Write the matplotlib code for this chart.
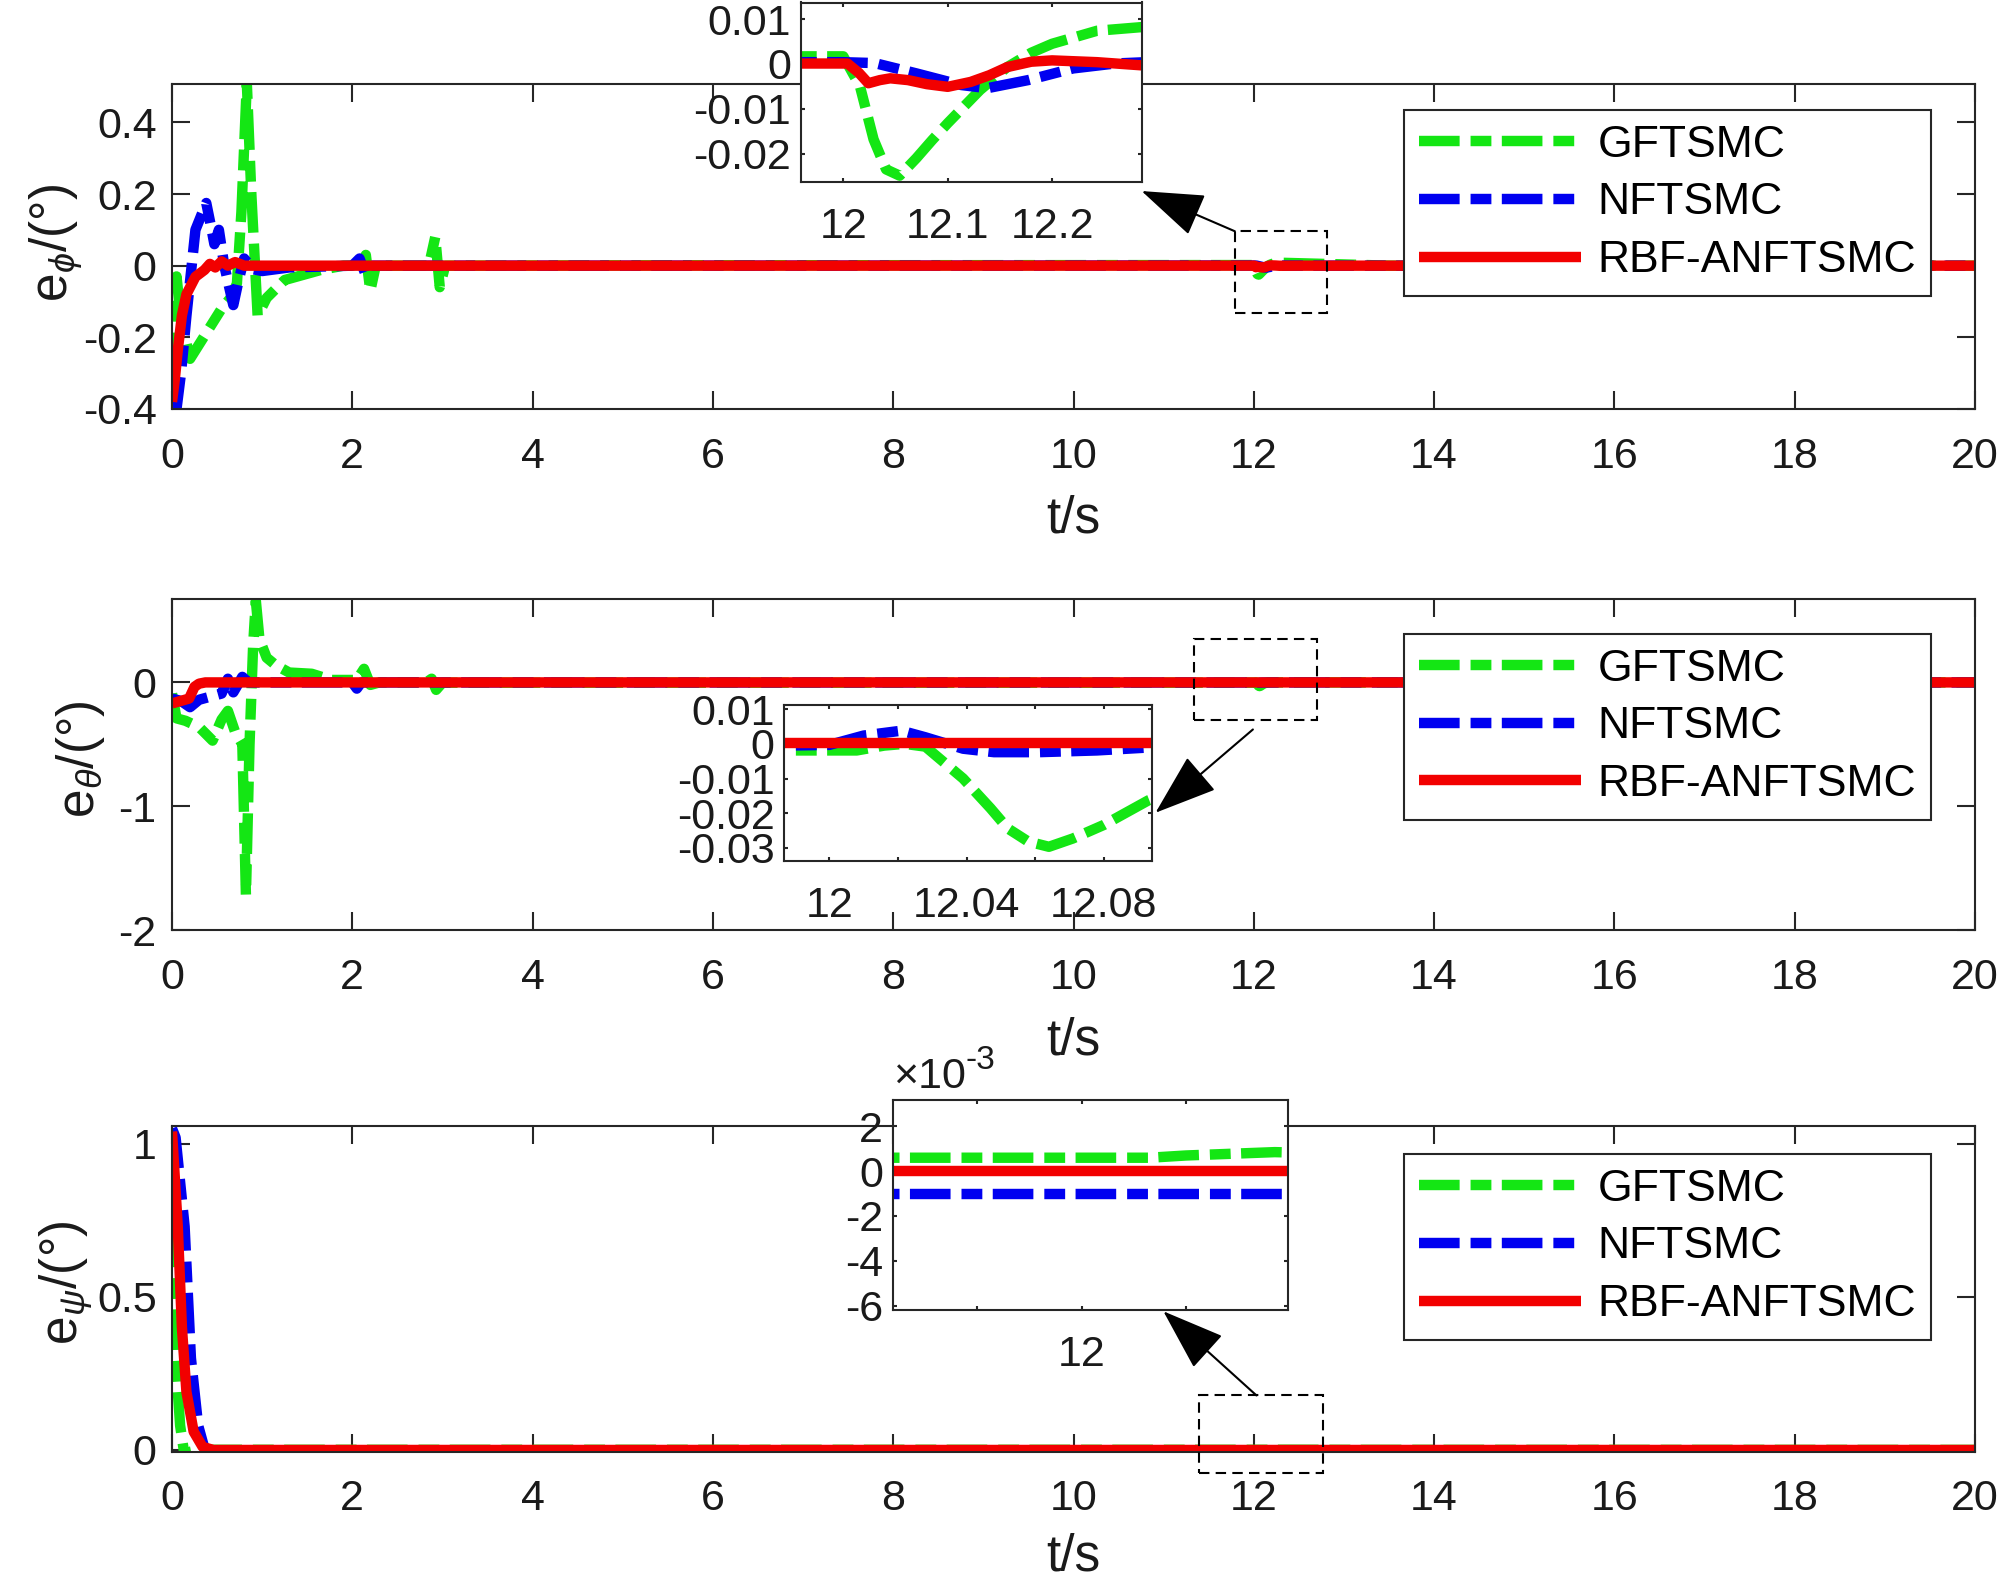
import numpy as np
import matplotlib
matplotlib.use('Agg')
import matplotlib.pyplot as plt
from matplotlib.patches import Rectangle, ConnectionPatch
from matplotlib.ticker import FuncFormatter

plt.rcParams['font.family'] = ['Liberation Sans', 'DejaVu Sans']
plt.rcParams['mathtext.fontset'] = 'custom'
plt.rcParams['mathtext.rm'] = 'Liberation Sans'
plt.rcParams['mathtext.it'] = 'Liberation Sans:italic'
plt.rcParams['axes.unicode_minus'] = False

# ---------------- data ----------------
series_names = ['GFTSMC', 'NFTSMC', 'RBF-ANFTSMC']
x_ticks = [0, 2, 4, 6, 8, 10, 12, 14, 16, 18, 20]

# roll error e_phi
phi_g_t = [0.0, 0.02, 0.05, 0.1, 0.2, 0.35, 0.55, 0.65, 0.72, 0.77, 0.83, 0.88, 0.95, 1.05, 1.25, 1.65, 1.9,
           2.1, 2.15, 2.2, 2.26, 2.85, 2.92, 2.97, 3.03, 5.0, 11.96, 12.0, 12.016, 12.029, 12.041, 12.054,
           12.07, 12.085, 12.1, 12.131, 12.157, 12.18, 12.2, 12.243, 12.285, 12.4, 13.5, 20.0]
phi_g_v = [-0.30, -0.15, -0.03, -0.15, -0.26, -0.20, -0.12, -0.09, -0.05, 0.15, 0.51, 0.20, -0.14, -0.09,
           -0.04, -0.012, 0.0, 0.0, 0.03, -0.07, 0.0, 0.0, 0.08, -0.06, 0.0, 0.001, 0.0017, 0.0017, -0.005,
           -0.0168, -0.0235, -0.0249, -0.021, -0.017, -0.0132, -0.0058, -0.0007, 0.0025, 0.0045, 0.0074,
           0.0082, 0.0075, 0.0, 0.0]
phi_b_t = [0.0, 0.05, 0.1, 0.16, 0.26, 0.38, 0.44, 0.47, 0.52, 0.58, 0.68, 0.74, 0.8, 0.9, 1.0, 1.3, 2.0,
           2.08, 2.14, 2.2, 11.96, 12.0, 12.03, 12.07, 12.113, 12.138, 12.177, 12.22, 12.26, 12.29, 13.0, 20.0]
phi_b_v = [-0.38, -0.40, -0.30, -0.14, 0.10, 0.175, 0.10, 0.06, 0.10, 0.0, -0.11, -0.04, 0.02, -0.01,
           -0.015, -0.005, 0.0, 0.02, -0.02, 0.0, 0.0004, 0.0004, 0.0002, -0.0021, -0.0047, -0.0054,
           -0.0036, -0.001, 0.0001, 0.0004, 0.0, 0.0]
phi_r_t = [0.0, 0.03, 0.064, 0.11, 0.16, 0.26, 0.36, 0.42, 0.48, 0.55, 0.62, 0.7, 0.8, 11.96, 12.004,
           12.015, 12.024, 12.035, 12.045, 12.062, 12.08, 12.1, 12.122, 12.14, 12.157, 12.18, 12.2, 12.243,
           12.285, 12.5, 20.0]
phi_r_v = [-0.38, -0.32, -0.236, -0.139, -0.08, -0.031, -0.012, 0.005, -0.005, 0.012, 0.0, 0.01, 0.0,
           0.0001, 0.0001, -0.002, -0.0043, -0.0036, -0.0032, -0.0036, -0.0045, -0.0051, -0.004, -0.0025,
           -0.0007, 0.0005, 0.0008, 0.0004, -0.0003, 0.0, 0.0]

# pitch error e_theta
th_g_t = [0.0, 0.05, 0.15, 0.3, 0.45, 0.55, 0.62, 0.7, 0.78, 0.82, 0.86, 0.9, 0.93, 0.97, 1.05, 1.15, 1.3,
          1.55, 1.77, 2.05, 2.13, 2.2, 2.3, 2.82, 2.88, 2.93, 3.0, 11.987, 12.008, 12.016, 12.022, 12.028,
          12.039, 12.047, 12.052, 12.058, 12.064, 12.071, 12.08, 12.093, 12.12, 12.16, 13.0, 20.0]
th_g_v = [-0.09, -0.29, -0.31, -0.36, -0.47, -0.30, -0.23, -0.40, -0.50, -1.72, -0.50, 0.30, 0.66, 0.35,
          0.20, 0.14, 0.08, 0.07, 0.02, 0.02, 0.11, -0.02, 0.0, 0.0, 0.03, -0.06, -0.002, -0.0019, -0.0019,
          -0.0005, 0.0, -0.0008, -0.010, -0.0186, -0.0244, -0.0282, -0.0297, -0.0273, -0.0234, -0.0163,
          -0.006, 0.0, 0.0, 0.0]
th_b_t = [0.0, 0.1, 0.2, 0.3, 0.45, 0.55, 0.62, 0.68, 0.78, 0.85, 2.0, 2.05, 2.1, 11.987, 12.0, 12.01,
          12.021, 12.028, 12.039, 12.048, 12.061, 12.078, 12.094, 12.3, 20.0]
th_b_v = [-0.13, -0.15, -0.20, -0.14, -0.11, -0.09, 0.03, -0.08, 0.045, 0.0, 0.0, -0.05, 0.0, -0.0005,
          -0.0003, 0.0024, 0.0038, 0.0019, -0.0014, -0.0024, -0.0024, -0.0019, -0.001, 0.0, 0.0]
th_r_t = [0.0, 0.19, 0.25, 0.3, 0.37, 20.0]
th_r_v = [-0.17, -0.13, -0.035, -0.01, 0.0002, 0.0002]

# yaw error e_psi
psi_g_t = [0.0, 0.01, 0.04, 0.09, 0.14, 0.21, 0.3, 12.13, 12.2, 12.37, 13.0, 20.0]
psi_g_v = [1.0, 0.62, 0.30, 0.08, -0.02, -0.005, 0.0006, 0.0006, 0.0007, 0.00085, 0.0005, 0.0003]
psi_b_t = [0.0, 0.04, 0.14, 0.21, 0.29, 0.36, 0.45, 20.0]
psi_b_v = [1.05, 1.02, 0.73, 0.30, 0.08, 0.005, -0.001, -0.001]
psi_r_t = [0.0, 0.064, 0.11, 0.16, 0.24, 0.34, 0.46, 20.0]
psi_r_v = [1.04, 0.73, 0.40, 0.19, 0.06, 0.01, 0.0, 0.0]

# ---------------- style ----------------
GREEN, BLUE, RED = '#14e614', '#0000f0', '#f20000'
LW = 7.5
DASHDOT = (0, (3.9, 1.05, 2.0, 1.0))
AXC = '#262626'
TXT = '#1a1a1a'
FS = 31        # tick labels
LFS = 37       # axis labels
LEGFS = 32     # legend
W, H = 2000, 1579

fig = plt.figure(figsize=(W / 100, H / 100), dpi=100)


def frac_rect(left, top, right, bottom):
    return [left / W, 1 - bottom / H, (right - left) / W, (bottom - top) / H]


def draw_series(ax, data):
    handles = []
    for (t, v), col, name in zip(data, [GREEN, BLUE, RED], series_names):
        ls = '-' if col == RED else DASHDOT
        h, = ax.plot(t, v, color=col, lw=LW, ls=ls, label=name, solid_capstyle='butt')
        handles.append(h)
    return handles


def style_axes(ax, length, xpad, ypad):
    for s in ax.spines.values():
        s.set_linewidth(1.5)
        s.set_color(AXC)
    ax.tick_params(direction='in', length=length, width=1.5, top=True, right=True,
                   labelsize=FS, colors=AXC, labelcolor=TXT)
    ax.tick_params(axis='x', pad=xpad)
    ax.tick_params(axis='y', pad=ypad)


panels = [
    dict(rect=frac_rect(172, 84, 1975, 409),
         data=[(phi_g_t, phi_g_v), (phi_b_t, phi_b_v), (phi_r_t, phi_r_v)],
         ylim=(-0.4, 0.507), yticks=[-0.4, -0.2, 0, 0.2, 0.4], ytl=['-0.4', '-0.2', '0', '0.2', '0.4'],
         ylabel=r'e$_{\phi}$/(°)', ylc=(-0.049, 0.51), xlc=-0.262, legtop=0.92,
         box=(11.79, -0.132, 12.81, 0.096),
         inset=dict(rect=frac_rect(801, 2.5, 1141.6, 182.4), xlim=(11.9595, 12.2857),
                    ylim=(-0.0264, 0.0137), xticks=[12, 12.1, 12.2], xtl=['12', '12.1', '12.2'],
                    yticks=[-0.02, -0.01, 0, 0.01], ytl=['-0.02', '-0.01', '0', '0.01'], sci=False),
         arrow=((11.79, 0.096), (1.0, -0.048))),
    dict(rect=frac_rect(172, 599.5, 1975, 930),
         data=[(th_g_t, th_g_v), (th_b_t, th_b_v), (th_r_t, th_r_v)],
         ylim=(-2, 0.67), yticks=[-2, -1, 0], ytl=['-2', '-1', '0'],
         ylabel=r'e$_{\theta}$/(°)', ylc=(-0.036, 0.517), xlc=-0.262, legtop=0.896,
         box=(11.34, -0.30, 12.70, 0.35),
         inset=dict(rect=frac_rect(784.4, 705.4, 1151.8, 861), xlim=(11.9869, 12.094),
                    ylim=(-0.0338, 0.0111), xticks=[12, 12.02, 12.04, 12.06, 12.08],
                    xtl=['12', '', '12.04', '', '12.08'],
                    yticks=[-0.03, -0.02, -0.01, 0, 0.01], ytl=['-0.03', '-0.02', '-0.01', '0', '0.01'],
                    sci=False),
         arrow=((11.99, -0.38), (1.01, 0.31))),
    dict(rect=frac_rect(172, 1126, 1975, 1451.5),
         data=[(psi_g_t, psi_g_v), (psi_b_t, psi_b_v), (psi_r_t, psi_r_v)],
         ylim=(-0.005, 1.058), yticks=[0, 0.5, 1], ytl=['0', '0.5', '1'],
         ylabel=r'e$_{\psi}$/(°)', ylc=(-0.043, 0.518), xlc=-0.25, legtop=0.914,
         box=(11.39, -0.075, 12.77, 0.178),
         inset=dict(rect=frac_rect(892.9, 1099.5, 1288.3, 1310), xlim=(11.638, 12.396),
                    ylim=(-0.0062, 0.0032), xticks=[11.8, 12.0, 12.2], xtl=['', '12', ''],
                    yticks=[-0.006, -0.004, -0.002, 0, 0.002], ytl=None, sci=True),
         arrow=((12.03, 0.178), (0.684, -0.006))),
]

for p in panels:
    ax = fig.add_axes(p['rect'])
    handles = draw_series(ax, p['data'])
    ax.set_xlim(0, 20)
    ax.set_ylim(*p['ylim'])
    ax.set_xticks(x_ticks)
    ax.set_xticklabels([str(v) for v in x_ticks])
    ax.set_yticks(p['yticks'])
    ax.set_yticklabels(p['ytl'])
    style_axes(ax, 13, 20, 11)
    ax.set_xlabel('t/s', fontsize=LFS, color=TXT)
    ax.xaxis.set_label_coords(0.5, p['xlc'])
    ax.set_ylabel(p['ylabel'], fontsize=LFS, color=TXT)
    ax.yaxis.set_label_coords(*p['ylc'])

    leg = ax.legend(handles, series_names, loc='upper right', bbox_to_anchor=(0.9756, p['legtop']),
                    fontsize=LEGFS, handlelength=3.65, handletextpad=0.37, labelspacing=0.376,
                    borderpad=0.33, borderaxespad=0, frameon=True, fancybox=False,
                    edgecolor=AXC, framealpha=1)
    leg.get_frame().set_linewidth(1.5)
    leg.set_zorder(7)

    x0, y0, x1, y1 = p['box']
    ax.add_patch(Rectangle((x0, y0), x1 - x0, y1 - y0, fill=False, ec='black', lw=1.5,
                           ls=(0, (5, 3)), clip_on=False, zorder=6))

    ins = p['inset']
    axi = fig.add_axes(ins['rect'], zorder=5)
    draw_series(axi, p['data'])
    axi.set_xlim(*ins['xlim'])
    axi.set_ylim(*ins['ylim'])
    axi.set_xticks(ins['xticks'])
    axi.set_xticklabels(ins['xtl'])
    axi.set_yticks(ins['yticks'])
    if ins['sci']:
        axi.yaxis.set_major_formatter(FuncFormatter(lambda v, pos: '%g' % round(v * 1e3, 6)))
        t1 = axi.text(0.0, 1.01, '×10', transform=axi.transAxes, fontsize=FS, color=TXT,
                      ha='left', va='bottom')
        axi.annotate('-3', xy=(1.0, 0.92), xycoords=t1, fontsize=24, color=TXT,
                     ha='left', va='center')
    else:
        axi.set_yticklabels(ins['ytl'])
    style_axes(axi, 3, 18, 7)

    con = ConnectionPatch(xyA=p['arrow'][0], coordsA=ax.transData,
                          xyB=p['arrow'][1], coordsB=axi.transAxes,
                          arrowstyle='-|>,head_length=1.0,head_width=0.35', mutation_scale=40,
                          color='black', lw=1.5, zorder=10)
    fig.add_artist(con)

fig.savefig('out.png', dpi=100)
